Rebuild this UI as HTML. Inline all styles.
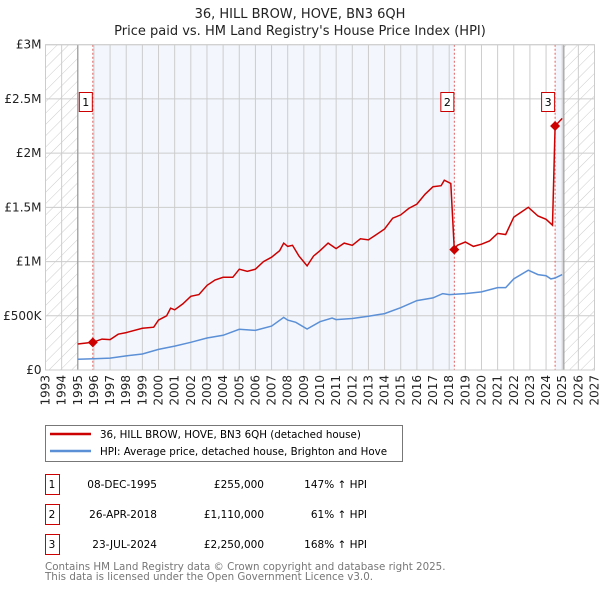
<!DOCTYPE html>
<html><head><meta charset="utf-8"><style>
body{margin:0;background:#fff;font-family:"DejaVu Sans","Liberation Sans",sans-serif;}
svg{display:block}
</style></head><body>
<svg id="chart" width="600" height="590" xmlns="http://www.w3.org/2000/svg" font-family="DejaVu Sans, Liberation Sans, sans-serif">
<defs>
<pattern id="hatch" patternUnits="userSpaceOnUse" width="8" height="8" patternTransform="rotate(45)">
<line x1="0" y1="0" x2="0" y2="8" stroke="#ccc" stroke-width="1"/></pattern>
</defs>
<text x="300" y="18" text-anchor="middle" font-size="13" fill="#222">36, HILL BROW, HOVE, BN3 6QH</text>
<text x="300" y="35" text-anchor="middle" font-size="13" fill="#222">Price paid vs. HM Land Registry's House Price Index (HPI)</text>
<g id="plot"></g>
<g id="legend">
<rect x="45.5" y="425.5" width="357" height="36" fill="#fff" stroke="#777"/>
<line x1="50" y1="434" x2="91" y2="434" stroke="#cc0000" stroke-width="2.5"/>
<text x="100" y="438" font-size="10.3" fill="#000">36, HILL BROW, HOVE, BN3 6QH (detached house)</text>
<line x1="50" y1="451" x2="91" y2="451" stroke="#5b8fd6" stroke-width="2.5"/>
<text x="100" y="455" font-size="10.3" fill="#000">HPI: Average price, detached house, Brighton and Hove</text>
</g>
<g id="table" font-size="11" fill="#000"></g>
<text x="45" y="570" font-size="10.3" fill="#777">Contains HM Land Registry data © Crown copyright and database right 2025.</text>
<text x="45" y="580" font-size="10.3" fill="#777">This data is licensed under the Open Government Licence v3.0.</text>
</svg>
<script>
const hpiYears=[1995,1996,1997,1998,1999,2000,2001,2002,2003,2004,2005,2006,2007,2007.75,2008,2008.5,2009.2,2010,2010.75,2011,2012,2013,2014,2015,2016,2017,2017.6,2018,2019,2020,2021,2021.5,2022,2022.9,2023.5,2024,2024.3,2024.56,2025];
const hpiValues=[100,103,110,130,148,190,220,255,295,320,375,365,405,485,460,440,378,445,480,465,475,495,520,575,640,665,705,695,705,720,760,760,840,920,880,870,840,848,880];
const redYears=[1995,1995.93,1996.5,1997,1997.5,1998,1999,1999.7,2000,2000.5,2000.75,2001,2001.5,2002,2002.5,2003,2003.5,2004,2004.6,2005,2005.5,2006,2006.5,2007,2007.5,2007.75,2008,2008.3,2008.7,2009.2,2009.6,2010,2010.5,2011,2011.5,2012,2012.5,2013,2013.5,2014,2014.5,2015,2015.5,2016,2016.5,2017,2017.5,2017.7,2018.1,2018.32,2018.5,2019,2019.5,2020,2020.5,2021,2021.5,2022,2022.5,2022.9,2023.5,2024,2024.4,2024.56,2025];
const redValues=[240,255,285,280,330,345,385,395,460,500,570,555,610,680,695,780,830,855,855,930,910,930,1000,1040,1100,1170,1140,1150,1050,960,1050,1100,1170,1120,1170,1150,1210,1200,1250,1300,1400,1430,1490,1530,1620,1690,1700,1750,1720,1110,1150,1180,1140,1160,1190,1260,1250,1410,1460,1500,1420,1390,1335,2250,2320];
const saleYears=[1995.93,2018.32,2024.56];
const saleValues=[255,1110,2250];
const saleLabels=["1","2","3"];
const saleDates=["08-DEC-1995","26-APR-2018","23-JUL-2024"];
const salePrices=["£255,000","£1,110,000","£2,250,000"];
const saleHpi=["147% ↑ HPI","61% ↑ HPI","168% ↑ HPI"];
const yTicks=[0,500,1000,1500,2000,2500,3000];
const yTickLabels=["£0","£500K","£1M","£1.5M","£2M","£2.5M","£3M"];
const xStart=1993,xEnd=2027,dataStart=1995,dataEnd=2025.1;

const L=45.5,R=594.5,T=44.7,B=370;
const X=v=>L+(v-xStart)/(xEnd-xStart)*(R-L);
const Y=v=>B-v/3000*(B-T);
const NS="http://www.w3.org/2000/svg";
const plot=document.getElementById('plot');
function mk(tag,attrs,parent){const e=document.createElementNS(NS,tag);for(const k in attrs)e.setAttribute(k,attrs[k]);(parent||plot).appendChild(e);return e;}

let r=mk('rect',{x:L,y:T,width:R-L,height:B-T,fill:'#fff'});


r=mk('rect',{x:X(saleYears[0]),y:T,width:X(saleYears[1])-X(saleYears[0]),height:B-T,fill:'#eef3fc',opacity:0.7});


r=mk('rect',{x:X(saleYears[2]),y:T,width:X(dataEnd)-X(saleYears[2]),height:B-T,fill:'#eef3fc',opacity:0.7});


r=mk('rect',{x:L,y:T,width:X(dataStart)-L,height:B-T,fill:'url(#hatch)'});


r=mk('rect',{x:X(dataEnd),y:T,width:R-X(dataEnd),height:B-T,fill:'url(#hatch)'});



for(let yr=xStart;yr<=xEnd;yr++){
  const g=mk('line',{x1:X(yr),x2:X(yr),y1:T,y2:B,stroke:'#ccc','stroke-width':1});
  
  
  const t=mk('text',{transform:`translate(${X(yr)+4},${B+5}) rotate(-90)`,'text-anchor':'end','font-size':'12',fill:'#222'});
  t.textContent=yr;
  
  
}
yTicks.forEach((v,i)=>{
  const g=mk('line',{x1:L,x2:R,y1:Y(v),y2:Y(v),stroke:'#ccc','stroke-width':1});
  
  
  const t=mk('text',{x:L-4,y:Y(v)+4,'text-anchor':'end','font-size':'12',fill:'#222'});
  t.textContent=yTickLabels[i];
  
  
});
let ln=mk('line',{x1:X(dataStart),x2:X(dataStart),y1:T,y2:B,stroke:'#999','stroke-width':1.2});


ln=mk('line',{x1:X(dataEnd),x2:X(dataEnd),y1:T,y2:B,stroke:'#999','stroke-width':1.2});



saleYears.forEach((yr,i)=>{
  const l=mk('line',{x1:X(yr),x2:X(yr),y1:T,y2:B,stroke:'#e06060','stroke-width':1,'stroke-dasharray':'2,2'});
  
  
});

const hp=mk('path',{d:hpiYears.map((y,i)=>(i?'L':'M')+X(y).toFixed(1)+','+Y(hpiValues[i]).toFixed(1)).join(''),fill:'none',stroke:'#5b8fd6','stroke-width':1.5});


const rp=mk('path',{d:redYears.map((y,i)=>(i?'L':'M')+X(y).toFixed(1)+','+Y(redValues[i]).toFixed(1)).join(''),fill:'none',stroke:'#cc0000','stroke-width':1.5});



saleYears.forEach((yr,i)=>{
  const cx=X(yr),cy=Y(saleValues[i]);
  const d=mk('path',{d:`M${cx},${cy-5}L${cx+5},${cy}L${cx},${cy+5}L${cx-5},${cy}Z`,fill:'#cc0000'});
  
  
  const bx=mk('rect',{x:cx-13.5,y:92.5,width:13,height:19,fill:'#fff',stroke:'#cc0000'});
  
  
  const t=mk('text',{x:cx-7,y:106,'text-anchor':'middle','font-size':'11',fill:'#000'});
  t.textContent=saleLabels[i];
  
  
});
const bd=mk('rect',{x:L,y:T,width:R-L,height:B-T,fill:'none',stroke:'#ccc'});



const tb=document.getElementById('table');
saleLabels.forEach((lab,i)=>{
  const cy=483+i*30;
  const b=mk('rect',{x:45.5,y:cy-8.5,width:14,height:20,fill:'#fff',stroke:'#cc0000'},tb);
  
  
  const cells=[[52,'middle',lab],[157,'end',saleDates[i]],[264,'end',salePrices[i]],[367,'end',saleHpi[i]]];
  cells.forEach(c=>{
    const t=mk('text',{x:c[0],y:cy+5,'text-anchor':c[1],'font-size':'10.5',fill:'#000'},tb);
    t.textContent=c[2];
    
    
  });
});
</script>
</body></html>
